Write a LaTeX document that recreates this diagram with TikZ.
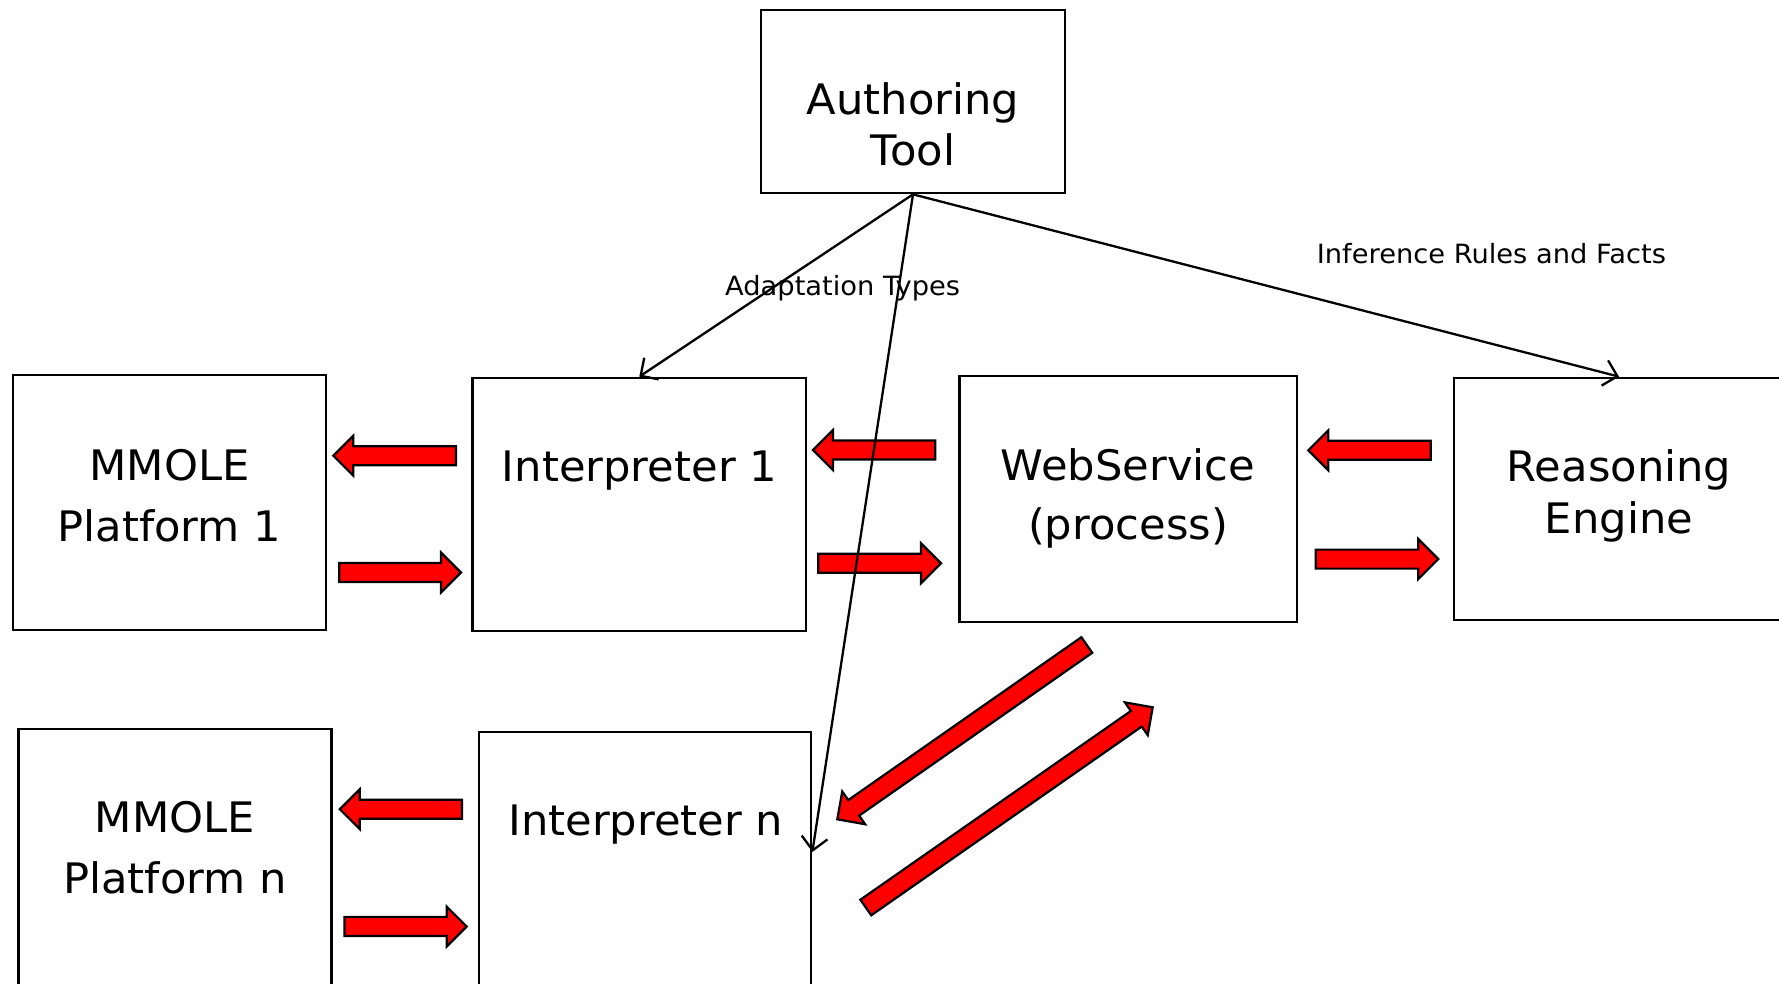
\documentclass[tikz,border=0pt]{standalone}
\usepackage{fontspec}
\setmainfont{DejaVu Sans}[FakeStretch=1.03]
\usetikzlibrary{calc,arrows.meta}
\tikzset{
  box/.style={draw=black, line width=2.7pt, rectangle, inner sep=0pt},
  big/.style={font=\fontsize{42}{50}\selectfont, inner sep=0pt, anchor=base},
  small/.style={font=\fontsize{26.5}{32}\selectfont, inner sep=0pt, anchor=base},
  link/.style={draw=black, line width=2.3pt, -{Straight Barb[length=13pt,width=26pt,line width=2.3pt]}},
  blockarrow/.style={draw=black, line width=2.2pt, fill=red, line join=miter},
}
\newcommand\blkarrow[2]{%
  \path coordinate (bah) at ($(#2)!20pt!(#1)$);
  \draw[blockarrow] ($(#1)!9.5pt!90:(#2)$) -- ($(bah)!9.5pt!90:(#2)$) -- ($(bah)!20pt!90:(#2)$)
     -- (#2) -- ($(bah)!20pt!-90:(#2)$) -- ($(bah)!9.5pt!-90:(#2)$) -- ($(#1)!9.5pt!-90:(#2)$) -- cycle;}
\begin{document}
\begin{tikzpicture}[x=1pt,y=-1pt]
\useasboundingbox (0,0) rectangle (1779,983);
\clip (0,0) rectangle (1779,983);
% boxes
\node[box, minimum width=304pt, minimum height=183pt] (auth) at (913,101.5) {};
\node[box, minimum width=313pt, minimum height=255pt] (mm1) at (169.5,502.5) {};
\node[box, minimum width=333.4pt, minimum height=253pt] (int1) at (639.3,504.5) {};
\node[box, minimum width=337.6pt, minimum height=246pt] (web) at (1128.2,499) {};
\node[box, minimum width=330pt, minimum height=242pt] (reas) at (1619,499) {};
\node[box, minimum width=313.4pt, minimum height=281pt] (mmn) at (175,869.5) {};
\node[box, minimum width=332pt, minimum height=281pt] (intn) at (645,872.5) {};
% texts
\node[big] (authL1) at (913,114) {Authoring};
\node[big] (authL2) at (913,165.7) {Tool};
\node[big] (mm1L1) at (169.5,480) {MMOLE};
\node[big] (mm1L2) at (169.5,541.7) {Platform 1};
\node[big] (int1L) at (639.5,481.7) {Interpreter 1};
\node[big] (webL1) at (1128,480.7) {WebService};
\node[big] (webL2) at (1128,539) {(process)};
\node[big] (reasL1) at (1619,481.7) {Reasoning};
\node[big] (reasL2) at (1619,533) {Engine};
\node[big] (mmnL1) at (175,832.7) {MMOLE};
\node[big] (mmnL2) at (175,893.3) {Platform n};
\node[big] (intnL) at (645.8,835) {Interpreter n};
\node[small] (lblA) at (842.6,295.7) {Adaptation Types};
\node[small] (lblI) at (1491.4,263.3) {Inference Rules and Facts};
% block arrow end points
\coordinate (b1t) at (456,455.7);    \coordinate (b1h) at (333.3,455.7);
\coordinate (b2t) at (339.3,572.5);  \coordinate (b2h) at (461,572.5);
\coordinate (b3t) at (935.3,450);    \coordinate (b3h) at (813,450);
\coordinate (b4t) at (818.2,563.3);  \coordinate (b4h) at (941,563.3);
\coordinate (b5t) at (1430.7,450.3); \coordinate (b5h) at (1308.3,450.3);
\coordinate (b6t) at (1315.7,559.1); \coordinate (b6h) at (1438.3,559.1);
\coordinate (b7t) at (462,809.2);    \coordinate (b7h) at (339.8,809.2);
\coordinate (b8t) at (344.4,926.5);  \coordinate (b8h) at (466.7,926.5);
\coordinate (b9t) at (1086.8,645);   \coordinate (b9h) at (837.3,819.3);
\coordinate (b10t) at (865.8,907.5); \coordinate (b10h) at (1152.7,707.3);
\blkarrow{b1t}{b1h}
\blkarrow{b2t}{b2h}
\blkarrow{b3t}{b3h}
\blkarrow{b4t}{b4h}
\blkarrow{b5t}{b5h}
\blkarrow{b6t}{b6h}
\blkarrow{b7t}{b7h}
\blkarrow{b8t}{b8h}
\blkarrow{b9t}{b9h}
\blkarrow{b10t}{b10h}
% connectors
\coordinate (intnIn) at ($(intn.north east)+(0,121.3)$);
\draw[link] (auth.south) -- (int1.north);
\draw[link] (auth.south) -- (reas.north);
\draw[link] (auth.south) -- (intnIn);
\end{tikzpicture}
\end{document}
